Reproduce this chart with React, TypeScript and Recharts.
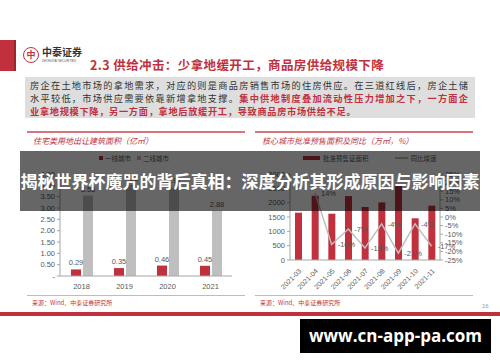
import { BarChart, Bar, XAxis, YAxis, LabelList, ComposedChart, Line } from 'recharts';

// left chart: residential land sold, floor area (亿㎡)
const years = ['2018', '2019', '2020', '2021'];
const tier1Area = [0.29, 0.35, 0.46, 0.45];
const tier2Area = [3.55, 4.03, 3.91, 2.88];
const leftTicks = [0, 0.5, 1, 1.5, 2, 2.5, 3, 3.5, 4, 4.5];

// right chart: approved presale area in core cities (万㎡) and YoY (%)
const months = ['2021-03', '2021-04', '2021-05', '2021-06', '2021-07', '2021-08', '2021-09', '2021-10', '2021-11'];
const presaleArea = [1650, 2240, 1615, 2230, 1850, 2010, 2650, 1455, 1895];
const presaleYoy = [null, 14, -16, -7, -18, -4, -21, -4, -17];
const areaTicks = [0, 500, 1000, 1500, 2000, 2500, 3000];
const yoyTicks = [-25, -20, -15, -10, -5, 0, 5, 10, 15, 20, 25];

const leftData = years.map((year, i) => ({ year, tier1: tier1Area[i], tier2: tier2Area[i] }));
const rightData = months.map((month, i) => ({ month, area: presaleArea[i], yoy: presaleYoy[i] }));

const RED = '#c0313d';
const GRAY_BAR = '#bfbfbf';
const CJK = '"Noto Sans CJK SC", sans-serif';
const NUM = '"Liberation Sans", Arial, sans-serif';
const tickStyle = { fontSize: 7.5, fill: '#595959', fontFamily: NUM };

export default function App() {
    return (
        <div style={{ position: 'absolute', left: 0, top: 0, width: 500, height: 362, overflow: 'hidden', background: '#fff', fontFamily: CJK }}>
            {/* header */}
            <div style={{ position: 'absolute', left: 0, top: 40, width: 14, height: 31, background: RED }} />
            <div style={{ position: 'absolute', left: 14, top: 40, width: 2, height: 31, background: '#9e2530' }} />
            <div style={{ position: 'absolute', left: 23, top: 47, width: 14, height: 14, borderRadius: '50%', border: `1.5px solid ${RED}`, color: RED, fontSize: 9, lineHeight: '14px', textAlign: 'center', fontWeight: 700 }}>中</div>
            <div style={{ position: 'absolute', left: 42, top: 46, fontSize: 10, fontWeight: 700, color: '#333', lineHeight: '12px' }}>中泰证券</div>
            <div style={{ position: 'absolute', left: 42, top: 59, fontSize: 3, color: '#555', lineHeight: '4px', fontFamily: NUM }}>ZHONGTAI SECURITIES</div>
            <div style={{ position: 'absolute', left: 90, top: 57, fontSize: 12.5, fontWeight: 700, color: RED, lineHeight: '16px', letterSpacing: 0.4, whiteSpace: 'nowrap' }}>
                2.3 供给冲击：少拿地缓开工，商品房供给规模下降
            </div>
            <div style={{ position: 'absolute', left: 25, top: 77, width: 450, height: 41, background: '#dedede' }} />
            <div style={{ position: 'absolute', left: 30, top: 79, width: 438, fontSize: 9.2, lineHeight: '13px', color: '#333' }}>
                <div style={{ textAlign: 'justify', textAlignLast: 'justify' }}>房企在土地市场的拿地需求，对应的则是商品房销售市场的住房供应。在三道红线后，房企土储</div>
                <div style={{ textAlign: 'justify', textAlignLast: 'justify' }}>
                    水平较低，市场供应需要依靠新增拿地支撑。<span style={{ color: RED, fontWeight: 700 }}>集中供地制度叠加流动性压力增加之下，一方面企</span>
                </div>
                <div style={{ color: RED, fontWeight: 700, letterSpacing: 0.7 }}>业拿地规模下降，另一方面，拿地后放缓开工，导致商品房市场供给不足。</div>
            </div>

            {/* panel frames */}
            <div style={{ position: 'absolute', left: 27, top: 131, width: 218, height: 1.5, background: '#d9737b' }} />
            <div style={{ position: 'absolute', left: 255, top: 131, width: 218, height: 1.5, background: '#d9737b' }} />
            <div style={{ position: 'absolute', left: 33, top: 135, fontSize: 8, fontStyle: 'italic', color: RED, whiteSpace: 'nowrap' }}>住宅类用地出让建筑面积（亿㎡）</div>
            <div style={{ position: 'absolute', left: 262, top: 135, fontSize: 8, fontStyle: 'italic', color: RED, whiteSpace: 'nowrap' }}>核心城市批准预售面积及同比（万㎡，%）</div>

            {/* left legend */}
            <div style={{ position: 'absolute', left: 99, top: 153, fontSize: 6.5, color: '#595959', display: 'flex', alignItems: 'center', whiteSpace: 'nowrap' }}>
                <span style={{ width: 4, height: 4, background: RED, marginRight: 2 }} />一线城市
                <span style={{ width: 4, height: 4, background: GRAY_BAR, marginLeft: 6, marginRight: 2 }} />二线城市
            </div>
            {/* right legend */}
            <div style={{ position: 'absolute', left: 303, top: 153, fontSize: 6.5, color: '#595959', display: 'flex', alignItems: 'center', whiteSpace: 'nowrap' }}>
                <span style={{ width: 17, height: 4, background: RED, marginRight: 3 }} />批准预售证面积
                <span style={{ width: 13, height: 1.5, background: GRAY_BAR, marginLeft: 26, marginRight: 3 }} />同比增速
            </div>

            <div style={{ position: 'absolute', left: 20, top: 165 }}>
                <BarChart width={225} height={130} data={leftData} margin={{ top: 9, right: 13, bottom: 3, left: 0 }} barSize={10} barGap={2}>
                    <XAxis dataKey="year" height={16} tick={tickStyle} tickLine={false} axisLine={{ stroke: '#a6a6a6' }} />
                    <YAxis width={40} domain={[0, 4.5]} ticks={leftTicks} interval={0} tick={tickStyle} tickSize={3}
                        tickLine={{ stroke: '#a6a6a6' }} axisLine={{ stroke: '#a6a6a6' }}
                        tickFormatter={(v: number) => (v === 0 ? '-' : v.toFixed(2))} />
                    <Bar dataKey="tier1" fill={RED} isAnimationActive={false}>
                        <LabelList dataKey="tier1" position="top" offset={4} style={{ fontSize: 7.5, fill: '#595959', fontFamily: NUM }} formatter={(v: number) => v.toFixed(2)} />
                    </Bar>
                    <Bar dataKey="tier2" fill={GRAY_BAR} isAnimationActive={false}>
                        <LabelList dataKey="tier2" position="top" offset={4} style={{ fontSize: 7.5, fill: '#595959', fontFamily: NUM }} formatter={(v: number) => v.toFixed(2)} />
                    </Bar>
                </BarChart>
            </div>

            <div style={{ position: 'absolute', left: 245, top: 165 }}>
                <ComposedChart width={240} height={135} data={rightData} margin={{ top: 9, right: 10, bottom: 4, left: 0 }} barSize={7}>
                    <XAxis dataKey="month" height={36} interval={0} angle={-45} textAnchor="end" tick={{ ...tickStyle, fontSize: 7 }}
                        tickLine={false} axisLine={{ stroke: '#a6a6a6' }} />
                    <YAxis yAxisId="area" width={45} domain={[0, 3000]} ticks={areaTicks} interval={0} tick={tickStyle} tickSize={3}
                        tickLine={{ stroke: '#a6a6a6' }} axisLine={{ stroke: '#a6a6a6' }} />
                    <YAxis yAxisId="yoy" orientation="right" width={35} domain={[-25, 25]} ticks={yoyTicks} interval={0} tick={tickStyle} tickSize={3}
                        tickLine={{ stroke: '#a6a6a6' }} axisLine={{ stroke: '#a6a6a6' }} tickFormatter={(v: number) => `${v}%`} />
                    <Bar yAxisId="area" dataKey="area" fill={RED} isAnimationActive={false} />
                    <Line yAxisId="yoy" dataKey="yoy" stroke={GRAY_BAR} strokeWidth={1.5} dot={false} isAnimationActive={false}>
                        <LabelList dataKey="yoy" position="right" offset={6} style={{ fontSize: 7.5, fill: '#595959', fontFamily: NUM }} formatter={(v: number | null) => (v == null ? '' : `${v}%`)} />
                    </Line>
                </ComposedChart>
            </div>

            {/* footers */}
            <div style={{ position: 'absolute', left: 27, top: 295, width: 218, height: 1, background: '#e6a9ae' }} />
            <div style={{ position: 'absolute', left: 255, top: 295, width: 218, height: 1, background: '#e6a9ae' }} />
            <div style={{ position: 'absolute', left: 32, top: 298, fontSize: 6, color: RED, whiteSpace: 'nowrap' }}>来源：Wind、中泰证券研究所</div>
            <div style={{ position: 'absolute', left: 260, top: 298, fontSize: 6, color: RED, whiteSpace: 'nowrap' }}>来源：Wind、中泰证券研究所</div>
            <div style={{ position: 'absolute', left: 482, top: 303, fontSize: 6, color: '#999', fontFamily: NUM }}>16</div>
            <div style={{ position: 'absolute', left: 0, top: 312, width: 500, height: 4, background: RED }} />

            {/* overlay banner */}
            <div style={{ position: 'absolute', left: 20, top: 151, width: 460, height: 60, background: 'rgba(0,0,0,0.6)', color: '#fff', fontSize: 17, fontWeight: 700, lineHeight: '60px', textAlign: 'center', whiteSpace: 'nowrap' }}>
                揭秘世界杯魔咒的背后真相：深度分析其形成原因与影响因素
            </div>
            {/* watermark */}
            <div style={{ position: 'absolute', left: 300, top: 319, width: 191, height: 34, background: '#000', color: '#fff', fontSize: 17, fontWeight: 700, lineHeight: '34px', textAlign: 'center', fontFamily: '"Open Sans", "DejaVu Sans", sans-serif' }}>
                www.cn-app-pa.com
            </div>
        </div>
    );
}
